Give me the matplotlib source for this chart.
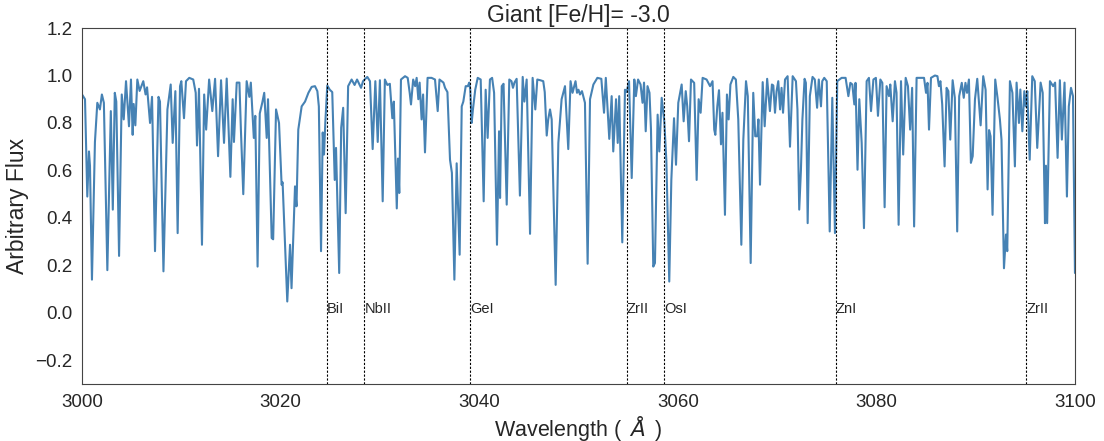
import matplotlib
matplotlib.use("Agg")
from matplotlib import pyplot as plt
import seaborn as sns

# spectrum (wavelength in Angstrom, arbitrary flux)
wave = [
    3000.0, 3000.3, 3000.53, 3000.7, 3000.8, 3001.0, 3001.3, 3001.54, 3001.8, 3002.0,
    3002.2, 3002.55, 3002.9, 3003.1, 3003.3, 3003.45, 3003.73, 3004.0, 3004.2, 3004.43,
    3004.73, 3004.93, 3005.1, 3005.2, 3005.37, 3005.57, 3005.8, 3006.17, 3006.4, 3006.55,
    3006.85, 3007.05, 3007.35, 3007.7, 3007.85, 3008.2, 3008.6, 3008.93, 3009.13, 3009.4,
    3009.63, 3009.87, 3010.0, 3010.27, 3010.47, 3010.8,
    3011.2, 3011.45, 3011.58, 3011.78, 3012.08, 3012.3, 3012.5, 3012.8, 3013.12, 3013.4,
    3013.7, 3014.0, 3014.3, 3014.57, 3014.94, 3015.17, 3015.3, 3015.58, 3015.85, 3016.0,
    3016.24, 3016.58, 3016.85, 3017.0, 3017.3, 3017.45, 3017.68, 3017.9, 3018.15, 3018.35,
    3018.6, 3018.73, 3019.1, 3019.25, 3019.54, 3019.84, 3020.1, 3020.2, 3020.67, 3020.95,
    3021.1, 3021.45, 3021.6, 3021.78, 3022.12, 3022.46, 3022.8, 3023.13, 3023.46, 3023.7,
    3023.85, 3024.07, 3024.24, 3024.37, 3024.5, 3024.7, 3024.95, 3025.2, 3025.45, 3025.58,
    3025.9, 3026.1, 3026.3, 3026.55, 3026.8, 3027.15, 3027.45, 3027.7, 3028.1, 3028.3,
    3028.73, 3029.0, 3029.27, 3029.54, 3029.78, 3030.0, 3030.28, 3030.5, 3030.75, 3031.0,
    3031.25, 3031.4, 3031.7, 3031.82, 3031.95, 3032.12,
    3032.53, 3032.8, 3033.0, 3033.13, 3033.35, 3033.55, 3033.7, 3033.87, 3034.0, 3034.2,
    3034.35, 3034.54, 3034.8, 3035.2, 3035.55, 3035.82, 3036.0, 3036.4, 3036.56, 3036.8,
    3037.06, 3037.25, 3037.5, 3037.73, 3038.03, 3038.24, 3038.4, 3038.64, 3038.85, 3039.0,
    3039.1, 3039.24, 3039.37, 3039.6, 3039.85, 3040.15, 3040.45, 3040.65, 3040.85, 3041.08,
    3041.3, 3041.5, 3041.79, 3042.0, 3042.1, 3042.27, 3042.45, 3042.77, 3043.03, 3043.25,
    3043.4, 3043.55, 3043.77, 3044.1, 3044.38, 3044.55, 3044.78, 3045.12, 3045.38, 3045.65,
    3045.85, 3046.15, 3046.45, 3046.6, 3046.8, 3046.95, 3047.13, 3047.3, 3047.7, 3047.97,
    3048.3, 3048.64, 3048.97, 3049.2, 3049.4, 3049.7, 3049.85, 3050.0, 3050.15, 3050.35,
    3050.65, 3050.92, 3051.16, 3051.5, 3051.9, 3052.3, 3052.57, 3052.75, 3053.1, 3053.34,
    3053.5, 3053.78, 3053.95, 3054.1, 3054.41, 3054.68, 3054.85, 3055.09, 3055.36, 3055.62,
    3055.78, 3056.0, 3056.25, 3056.45, 3056.6, 3056.77, 3056.95, 3057.15, 3057.3, 3057.53,
    3057.7, 3057.97, 3058.14, 3058.38, 3058.64, 3058.85, 3059.14, 3059.35, 3059.62, 3059.82,
    3060.05, 3060.39, 3060.59, 3060.8, 3060.95, 3061.13, 3061.33, 3061.65, 3061.9, 3062.1,
    3062.3, 3062.5, 3062.9, 3063.25, 3063.5, 3063.67, 3063.78, 3063.98, 3064.15, 3064.35,
    3064.5, 3064.75, 3064.95, 3065.12, 3065.3, 3065.59, 3065.85, 3066.09, 3066.4, 3066.6,
    3066.87, 3067.05, 3067.34, 3067.6, 3067.8, 3068.0, 3068.12, 3068.28, 3068.55, 3068.75,
    3069.0, 3069.28, 3069.48, 3069.62, 3069.79, 3069.95, 3070.12, 3070.3, 3070.45, 3070.6,
    3070.8, 3071.06, 3071.3, 3071.57, 3071.9, 3072.05, 3072.23, 3072.4, 3072.55, 3072.77,
    3072.9, 3073.08, 3073.3, 3073.57, 3073.8, 3074.03, 3074.2, 3074.42, 3074.55, 3074.75,
    3075.0, 3075.3, 3075.56, 3075.83, 3076.06, 3076.5, 3076.9, 3077.18, 3077.38, 3077.58,
    3077.78, 3077.9, 3078.1, 3078.28, 3078.52, 3078.75, 3079.02, 3079.25, 3079.46, 3079.7,
    3079.95, 3080.16, 3080.4, 3080.6, 3080.83, 3081.03, 3081.27, 3081.4, 3081.64, 3081.87,
    3082.03, 3082.24, 3082.48, 3082.7, 3082.95, 3083.18, 3083.4, 3083.6, 3083.8, 3084.05,
    3084.4, 3084.8, 3085.0, 3085.15, 3085.3, 3085.5, 3085.9, 3086.15, 3086.3, 3086.45,
    3086.63, 3086.87, 3087.07, 3087.25, 3087.44, 3087.68, 3087.9, 3088.14, 3088.34, 3088.6,
    3088.8, 3088.97, 3089.13, 3089.32, 3089.52, 3089.7, 3089.93, 3090.16, 3090.5, 3090.76,
    3091.0, 3091.2, 3091.35, 3091.5, 3091.7, 3091.97, 3092.2, 3092.44, 3092.6, 3092.85,
    3093.05, 3093.18, 3093.45, 3093.7, 3093.95, 3094.12, 3094.36, 3094.5, 3094.7, 3094.9,
    3095.05, 3095.2, 3095.44, 3095.7, 3095.95, 3096.2, 3096.54, 3096.75, 3096.98, 3097.08,
    3097.2, 3097.48, 3097.8, 3098.0, 3098.25, 3098.48, 3098.68, 3098.95, 3099.19, 3099.38,
    3099.6, 3099.8, 3100.0,
]
flux = [
    0.92, 0.90, 0.49, 0.68, 0.62, 0.14, 0.72, 0.885, 0.857, 0.92,
    0.885, 0.18, 0.85, 0.435, 0.927, 0.89, 0.24, 0.92, 0.815, 0.976,
    0.786, 0.983, 0.75, 0.88, 0.79, 0.983, 0.935, 0.976, 0.92, 0.95,
    0.80, 0.91, 0.26, 0.91, 0.89, 0.175, 0.857, 0.962, 0.716, 0.934,
    0.336, 0.955, 0.976, 0.82, 0.976, 0.99,
    0.983, 0.927, 0.705, 0.944, 0.287, 0.92, 0.772, 0.983, 0.85, 0.986,
    0.66, 0.98, 0.716, 0.987, 0.573, 0.90, 0.72, 0.97, 0.97, 0.772,
    0.50, 0.976, 0.91, 0.97, 0.737, 0.83, 0.195, 0.84, 0.885, 0.927,
    0.737, 0.90, 0.315, 0.31, 0.857, 0.80, 0.54, 0.55, 0.048, 0.287,
    0.104, 0.533, 0.449, 0.772, 0.87, 0.89, 0.927, 0.952, 0.955, 0.934,
    0.87, 0.26, 0.76, 0.667, 0.80, 0.958, 0.94, 0.93, 0.56, 0.695,
    0.168, 0.78, 0.864, 0.42, 0.955, 0.983, 0.96, 0.983, 0.948, 0.976,
    0.994, 0.976, 0.69, 0.976, 0.72, 0.98, 0.47, 0.983, 0.96, 0.965,
    0.82, 0.89, 0.44, 0.65, 0.505, 0.983,
    0.997, 0.99, 0.927, 0.878, 0.983, 0.955, 0.99, 0.90, 0.97, 0.815,
    0.92, 0.676, 0.99, 0.99, 0.983, 0.85, 0.983, 0.97, 0.948, 0.93,
    0.645, 0.59, 0.14, 0.63, 0.245, 0.87, 0.89, 0.955, 0.955, 0.97,
    0.94, 0.80, 0.857, 0.94, 0.99, 0.983, 0.47, 0.94, 0.737, 0.983,
    0.99, 0.927, 0.287, 0.765, 0.484, 0.955, 0.965, 0.456, 0.983, 0.976,
    0.948, 0.97, 0.986, 0.494, 0.994, 0.89, 0.983, 0.333, 0.99, 0.857,
    0.983, 0.98, 0.976, 0.93, 0.747, 0.815, 0.857, 0.815, 0.118, 0.716,
    0.90, 0.955, 0.69, 0.976, 0.927, 0.976, 0.927, 0.94, 0.92, 0.934,
    0.885, 0.207, 0.90, 0.962, 0.99, 0.986, 0.843, 0.99, 0.733, 0.913,
    0.68, 0.90, 0.716, 0.913, 0.297, 0.94, 0.93, 0.976, 0.568, 0.983,
    0.913, 0.983, 0.962, 0.885, 0.97, 0.765, 0.955, 0.927, 0.772, 0.195,
    0.21, 0.835, 0.68, 0.906, 0.807, 0.64, 0.132, 0.56, 0.82, 0.624,
    0.885, 0.962, 0.807, 0.934, 0.87, 0.723, 0.983, 0.969, 0.56, 0.90,
    0.843, 0.99, 0.983, 0.955, 0.976, 0.772, 0.75, 0.87, 0.938, 0.71,
    0.843, 0.413, 0.92, 0.815, 0.962, 0.994, 0.983, 0.815, 0.287, 0.73,
    0.976, 0.913, 0.21, 0.927, 0.744, 0.744, 0.815, 0.54, 0.972, 0.786,
    0.986, 0.85, 0.962, 0.958, 0.843, 0.934, 0.976, 0.857, 0.948, 0.843,
    0.983, 0.997, 0.70, 0.997, 0.976, 0.857, 0.435, 0.60, 0.815, 0.986,
    0.969, 0.378, 0.913, 0.994, 0.983, 0.864, 0.983, 0.87, 0.976, 0.99,
    0.976, 0.343, 0.906, 0.336, 0.976, 0.99, 0.99, 0.913, 0.969, 0.962,
    0.878, 0.969, 0.603, 0.90, 0.716, 0.357, 0.976, 0.99, 0.85, 0.983,
    0.99, 0.83, 0.983, 0.969, 0.445, 0.955, 0.913, 0.962, 0.807, 0.976,
    0.927, 0.371, 0.976, 0.667, 0.99, 0.955, 0.772, 0.948, 0.364, 0.99,
    0.99, 0.99, 0.927, 0.969, 0.772, 0.99, 1.0, 0.997, 0.955, 0.976,
    0.878, 0.617, 0.948, 0.934, 0.73, 0.98, 0.906, 0.343, 0.913, 0.969,
    0.906, 0.969, 0.927, 0.983, 0.632, 0.66, 0.90, 0.986, 0.79, 0.997,
    0.94, 0.52, 0.77, 0.744, 0.413, 0.983, 0.906, 0.815, 0.73, 0.188,
    0.33, 0.26, 0.976, 0.927, 0.617, 0.97, 0.80, 0.941, 0.765, 0.934,
    0.87, 0.934, 0.645, 0.997, 0.976, 0.695, 0.97, 0.927, 0.378, 0.62,
    0.378, 0.976, 0.955, 0.97, 0.653, 0.98, 0.73, 0.97, 0.49, 0.87,
    0.948, 0.913, 0.168,
]

# identified lines
line_names = ["BiI", "NbII", "GeI", "ZrII", "OsI", "ZnI", "ZrII"]
line_waves = [3024.64, 3028.44, 3039.07, 3054.84, 3058.66, 3075.90, 3095.07]

sns.set_style("white")
plt.rcParams["font.family"] = ["Liberation Sans", "DejaVu Sans"]

fig = plt.figure(figsize=(11.04, 4.41), dpi=100)
ax = fig.add_axes([0.0743, 0.129, 0.8994, 0.8075])

ax.plot(wave, flux, color="steelblue", lw=1.5)

for name, w in zip(line_names, line_waves):
    ax.axvline(w, color="black", ls=(0, (2, 1.5)), lw=0.8)
    ax.text(w, 0, name, fontsize=10.5, color=".15")

ax.set_xlim(3000, 3100)
ax.set_ylim(-0.3, 1.2)
ax.set_xticks(range(3000, 3101, 20))
ax.set_yticks([-0.2, 0.0, 0.2, 0.4, 0.6, 0.8, 1.0, 1.2])
ax.tick_params(labelsize=13.5)
for s in ax.spines.values():
    s.set_color("#444444")
ax.set_xlabel(r"Wavelength ( $\,\AA\,$ )", fontsize=15.5, labelpad=2)
ax.set_ylabel("Arbitrary Flux", fontsize=16.5)
ax.set_title("Giant [Fe/H]= -3.0", fontsize=16.5, pad=4)

fig.savefig("out.png", dpi=100)
